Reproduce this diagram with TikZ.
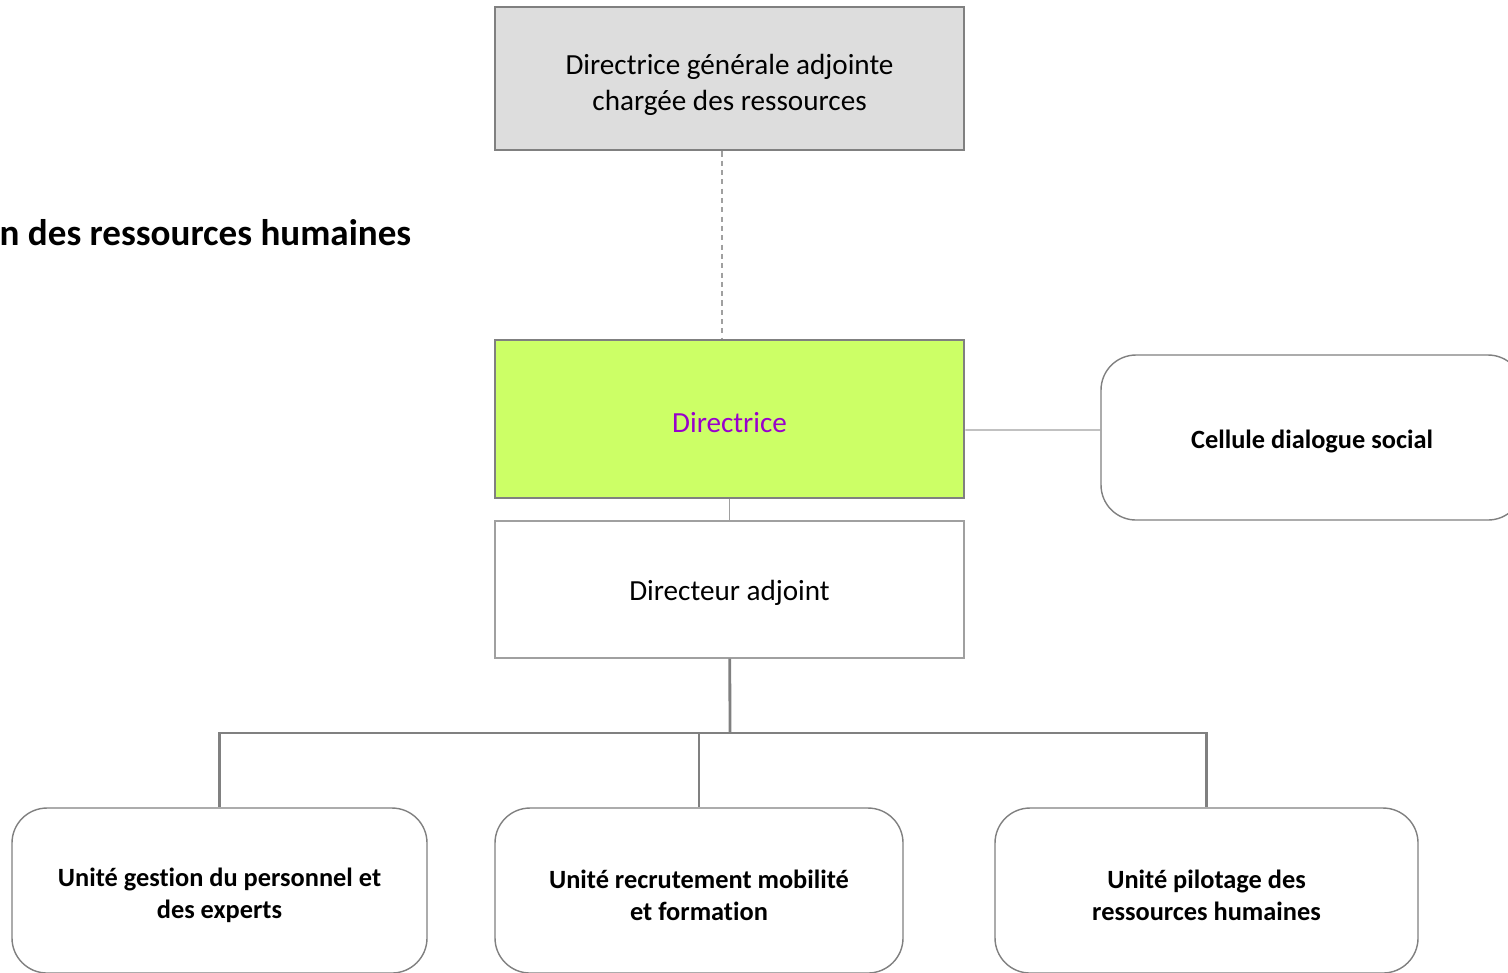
\documentclass[tikz,border=0pt]{standalone}
\usepackage{fontspec}
\setmainfont{Carlito}[Ligatures=NoCommon]
\usepackage{tikz}
\usetikzlibrary{positioning,shapes}

\definecolor{boxgray}{HTML}{DDDDDD}
\definecolor{linegray}{HTML}{808080}
\definecolor{thingray}{HTML}{A0A0A0}
\definecolor{dirgreen}{HTML}{CCFF66}
\definecolor{dirpurple}{HTML}{9900CC}

\begin{document}
\begin{tikzpicture}[
                x=1cm, y=1cm,
                chef/.style={rectangle, draw=linegray, line width=0.8pt, inner sep=0pt, align=center, text height=7.8pt, font=\fontsize{8.3}{10.2}\selectfont},
                poste/.style={rectangle, draw=thingray, line width=0.4pt, fill=white, inner sep=0pt, align=center, text height=7.8pt, font=\fontsize{8.3}{10.2}\selectfont},
                unite/.style={rectangle, rounded corners=0.35cm, draw=linegray, line width=0.4pt, fill=white, inner sep=0pt, align=center, text height=17pt, font=\bfseries\fontsize{7.5}{9.1}\selectfont},
                lien/.style={draw=linegray, line width=0.8pt},
                fin/.style={draw=thingray, line width=0.4pt}
            ]
            \useasboundingbox (0,0) rectangle (15.08,-9.72);

            \node[anchor=base east, inner sep=0pt, font=\bfseries\fontsize{10.55}{12.6}\selectfont] (titre) at (4.12,-2.45) {n des ressources humaines};

            \node[chef, fill=boxgray, minimum width=4.69cm, minimum height=1.43cm, text height=19.8pt] (dga) at (7.295,-0.785) {Directrice générale adjointe\\chargée des ressources};
            \node[chef, fill=dirgreen, minimum width=4.69cm, minimum height=1.58cm, text=dirpurple] (directrice) at (7.295,-4.19) {Directrice};
            \node[poste, minimum width=4.69cm, minimum height=1.37cm] (adjoint) at (7.295,-5.895) {Directeur adjoint};
            \node[unite, minimum width=4.22cm, minimum height=1.65cm, text height=7.4pt] (cellule) at (13.12,-4.375) {Cellule dialogue social};

            \node[unite, minimum width=4.15cm, minimum height=1.65cm] (unite1) at (2.195,-8.905) {Unité gestion du personnel et\\des experts};
            \node[unite, minimum width=4.08cm, minimum height=1.65cm] (unite2) at (6.99,-8.905) {Unité recrutement mobilité\\et formation};
            \node[unite, minimum width=4.23cm, minimum height=1.65cm] (unite3) at (12.065,-8.905) {Unité pilotage des\\ressources humaines};

            \coordinate (bus) at (7.30,-7.33);

            \draw[fin, dash pattern=on 1.45pt off 1.2pt] ([xshift=-0.075cm]dga.south) -- ([xshift=-0.075cm]directrice.north);
            \draw[fin] ([yshift=-1.1mm]directrice.east) -- ([yshift=0.75mm]cellule.west);
            \draw[fin] (directrice) -- (adjoint);

            \draw[lien] (adjoint) -- (bus);
            \draw[lien] (bus) -| (unite1);
            \draw[lien] (bus) -| (unite2);
            \draw[lien] (bus) -| (unite3);
        \end{tikzpicture}
\end{document}
